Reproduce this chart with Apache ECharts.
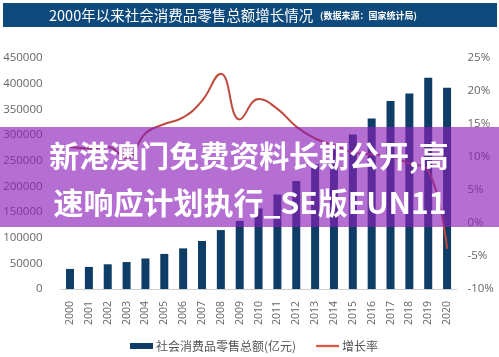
<!DOCTYPE html>
<html>
<head>
<meta charset="utf-8">
<script src="https://cdn.jsdelivr.net/npm/echarts@6/dist/echarts.min.js"></script>
<style>
html,body{margin:0;padding:0;background:#fff;}
#c{width:499px;height:357px;}
</style>
</head>
<body>
<div id="c"></div>
<script>
var years = ['2000','2001','2002','2003','2004','2005','2006','2007','2008','2009','2010','2011','2012','2013','2014','2015','2016','2017','2018','2019','2020'];
var salesValues = [39106,43055,48136,52516,59501,68353,79145,93572,114830,132678,156998,183919,210307,242843,271896,300931,332316,366262,380987,411649,391981];
var growthValues = [11.5,11.3,11.5,9.8,13.6,15.0,16.0,18.5,22.6,15.7,18.8,17.3,14.6,12.8,11.8,10.7,10.4,10.1,9.0,8.0,-3.9];
var leftTicks = [0,450000,50000];
var rightTicks = [-10,25,5];
var titleText = '2000年以来社会消费品零售总额增长情况';
var sourceText = '(数据来源：国家统计局)';
var bannerLines = ['新港澳门免费资料长期公开,高','速响应计划执行_SE版EUN11'];
var seriesNames = ['社会消费品零售总额(亿元)','增长率'];

var chart = echarts.init(document.getElementById('c'), null, {renderer:'canvas'});
var font = "'Open Sans', 'Noto Sans CJK SC', sans-serif";
var option = {
  animation:false,
  textStyle:{fontFamily:font},
  grid:{left:60.6,right:42.5,top:58,bottom:68,containLabel:false},
  legend:{
    left:130, top:340, padding:0,
    itemWidth:23, itemHeight:6, itemGap:20,
    textStyle:{color:'#555',fontSize:12,fontFamily:"'Noto Sans CJK SC', sans-serif",padding:[0,0,0,-2]},
    data:[{name:seriesNames[0],icon:'rect'},{name:seriesNames[1],icon:'path://M0,0L24,0L24,2.4L0,2.4Z'}]
  },
  xAxis:{
    type:'category', data:years,
    axisLine:{lineStyle:{color:'#d0d0d0',width:1}},
    axisTick:{show:false},
    axisLabel:{rotate:90,margin:12,color:'#666',fontSize:10.5,fontFamily:font}
  },
  yAxis:[{
    type:'value', min:leftTicks[0], max:leftTicks[1], interval:leftTicks[2],
    axisLine:{show:false}, axisTick:{show:false}, splitLine:{show:false},
    axisLabel:{color:'#666',fontSize:11.5,margin:18,fontFamily:font,formatter:function(v){return String(v);}}
  },{
    type:'value', min:rightTicks[0], max:rightTicks[1], interval:rightTicks[2],
    axisLine:{show:false}, axisTick:{show:false}, splitLine:{show:false},
    axisLabel:{color:'#666',fontSize:11.5,margin:11,fontFamily:font,formatter:'{value}%'}
  }],
  series:[{
    name:seriesNames[0], type:'bar', data:salesValues, barWidth:8,
    itemStyle:{color:'#0e3d66'}
  },{
    name:seriesNames[1], type:'line', yAxisIndex:1, data:growthValues,
    smooth:0.45, symbol:'none', showSymbol:false,
    lineStyle:{color:'#bf4a3c',width:2},
    itemStyle:{color:'#d95a40'}
  }],
  graphic:[
    {type:'rect',shape:{x:3,y:3,width:494,height:24},style:{fill:'#0f4a7c'},z:10},
    {type:'text',x:49,y:15,style:{text:titleText,fill:'#fff',font:"14.5px 'Noto Sans CJK SC', sans-serif",textVerticalAlign:'middle',textBaseline:'middle'},z:11},
    {type:'text',x:320,y:16,style:{text:sourceText,fill:'#fff',font:"bold 9px 'Noto Sans CJK SC', sans-serif",textVerticalAlign:'middle',textBaseline:'middle'},z:11},
    {type:'rect',shape:{x:0,y:127,width:499,height:100},style:{fill:'rgba(140,30,185,0.64)'},z:20},
    {type:'text',x:249,y:156,style:{text:bannerLines[0],fill:'#fff',font:"bold 30px 'Noto Sans CJK SC', sans-serif",textAlign:'center',textVerticalAlign:'middle',textBaseline:'middle'},z:21},
    {type:'text',x:250,y:203,style:{text:bannerLines[1],fill:'#fff',font:"bold 30px 'Noto Sans CJK SC', sans-serif",textAlign:'center',textVerticalAlign:'middle',textBaseline:'middle'},z:21}
  ]
};
chart.setOption(option);
</script>
</body>
</html>
